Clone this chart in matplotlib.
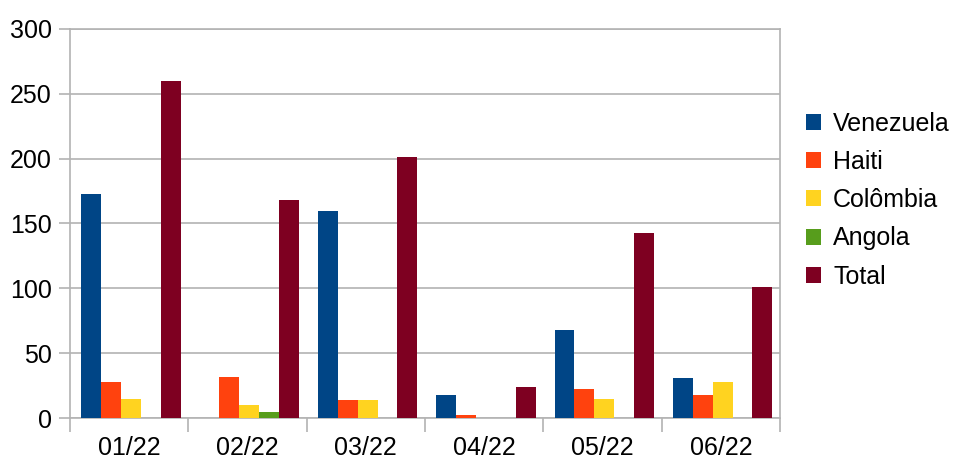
import numpy as np
import matplotlib.pyplot as plt

plt.rcParams['font.family'] = ['Liberation Sans', 'DejaVu Sans']

months = ['01/22', '02/22', '03/22', '04/22', '05/22', '06/22']
venezuela = [173, 0, 160, 18, 68, 31]
haiti = [28, 32, 14, 2, 22, 18]
colombia = [15, 10, 14, 0, 15, 28]
angola = [0, 5, 0, 0, 0, 0]
total = [260, 168, 201, 24, 143, 101]

series = [
    ('Venezuela', venezuela, '#004586'),
    ('Haiti', haiti, '#ff420e'),
    ('Colômbia', colombia, '#ffd320'),
    ('Angola', angola, '#579d1c'),
    ('Total', total, '#7e0021'),
]

grid_color = '#b3b3b3'
fsize = 18

fig = plt.figure(figsize=(9.55, 4.62), dpi=100)
ax = fig.add_axes([70 / 955, 44 / 462, 710 / 955, 389 / 462])

x = np.arange(len(months))
width = 0.168
for i, (name, vals, color) in enumerate(series):
    offset = (i - 2) * width + 0.015
    ax.bar(x + offset, vals, width, color=color, label=name, zorder=3)

ax.set_xlim(-0.5, len(months) - 0.5)
ax.set_ylim(0, 300)
ax.set_yticks(range(0, 301, 50))
ax.set_xticks(x)
ax.set_xticklabels(months)
ax.set_xticks(np.arange(-0.5, len(months)), minor=True)

ax.yaxis.grid(True, color=grid_color, linewidth=1.2, zorder=0)
for side in ['left', 'right', 'top', 'bottom']:
    ax.spines[side].set_color(grid_color)
    ax.spines[side].set_linewidth(1.2)

ax.tick_params(axis='x', which='major', length=0, labelsize=fsize, pad=13, colors='black')
ax.tick_params(axis='x', which='minor', length=10, color=grid_color, width=1.2)
ax.tick_params(axis='y', length=8, color=grid_color, width=1.2, labelsize=fsize, pad=5)

leg = ax.legend(loc='center left', bbox_to_anchor=(1.036, 0.56), frameon=False,
                fontsize=fsize, handlelength=0.6, handleheight=0.6,
                handletextpad=0.5, labelspacing=0.57, borderaxespad=0,
                borderpad=0)

fig.savefig('out.png', dpi=100)
